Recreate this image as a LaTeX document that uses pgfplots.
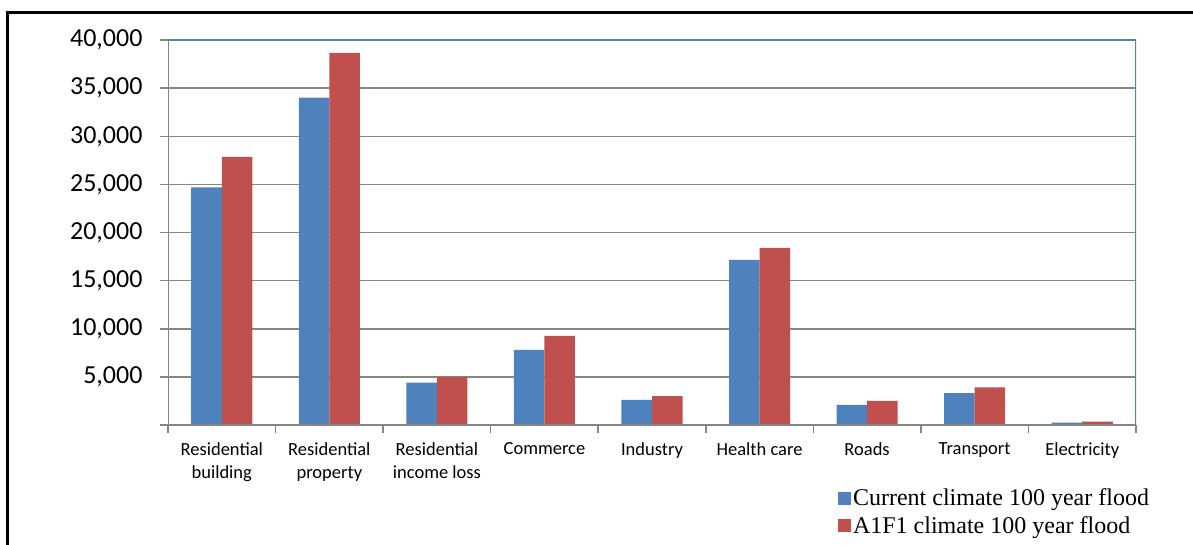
\documentclass[border=0pt]{standalone}
\usepackage{pgfplots}
\pgfplotsset{compat=1.18}
\usepackage{fontspec}
\setmainfont{Carlito}
\newfontfamily\timesf{Liberation Serif}
\definecolor{cblue}{HTML}{4F81BD}
\definecolor{cred}{HTML}{C0504D}
\definecolor{cgrid}{HTML}{868686}
\begin{document}
\begin{tikzpicture}[x=1pt,y=1pt]
\path[use as bounding box] (0,0) rectangle (1193,544);
\draw[line width=3pt] (7,-2) -- (7,531) -- (1195,531);
\begin{axis}[
  at={(168pt,119pt)}, anchor=south west, scale only axis,
  width=968pt, height=385pt,
  xmin=-0.5, xmax=8.5, ymin=0, ymax=40000,
  scaled y ticks=false,
  axis line style={draw=none},
  tick pos=left, tick align=outside, major tick length=8pt,
  tick style={cgrid, line width=1.5pt},
  xtick={-0.5,0.5,...,8.5}, x tick label as interval,
  xticklabels={{Residential\\building},{Residential\\property},{Residential\\income loss},Commerce,Industry,{Health care},Roads,Transport,Electricity},
  xticklabel style={align=center, font=\fontsize{18.5}{23}\selectfont, text=black, yshift=-6pt},
  ytick={0,5000,10000,15000,20000,25000,30000,35000,40000},
  yticklabels={,{5,000},{10,000},{15,000},{20,000},{25,000},{30,000},{35,000},{40,000}},
  yticklabel style={font=\fontsize{26}{30}\selectfont, text=black, xshift=-14pt},
  ymajorgrids, grid style={cgrid, line width=1.5pt},
  legend style={at={(rel axis cs:0.692,-0.160)}, anchor=north west, draw=none,
    font=\timesf\fontsize{24}{27}\selectfont, inner sep=0pt, row sep=5pt,
    legend cell align=left},
  legend image code/.code={\fill[#1] (0pt,-6.5pt) rectangle (13pt,6.5pt);},
]
\addplot[ybar, bar width=0.284, bar shift=0pt, fill=cblue, draw=none] coordinates {
 (-0.142,24700) (0.858,34000) (1.858,4400) (2.858,7800) (3.858,2600)
 (4.858,17150) (5.858,2080) (6.858,3300) (7.858,250)};
\addlegendentry{Current climate 100 year flood}
\addplot[ybar, bar width=0.284, bar shift=0pt, fill=cred, draw=none] coordinates {
 (0.142,27850) (1.142,38650) (2.142,5000) (3.142,9250) (4.142,3000)
 (5.142,18400) (6.142,2500) (7.142,3900) (8.142,350)};
\addlegendentry{A1F1 climate 100 year flood}
\draw[cgrid, line width=2pt] (rel axis cs:0,1) -- (rel axis cs:0,0) -- (rel axis cs:1,0);
\draw[cblue, line width=2pt] (rel axis cs:0,1) -- (rel axis cs:1,1) -- (rel axis cs:1,0);
\end{axis}
\end{tikzpicture}
\end{document}
